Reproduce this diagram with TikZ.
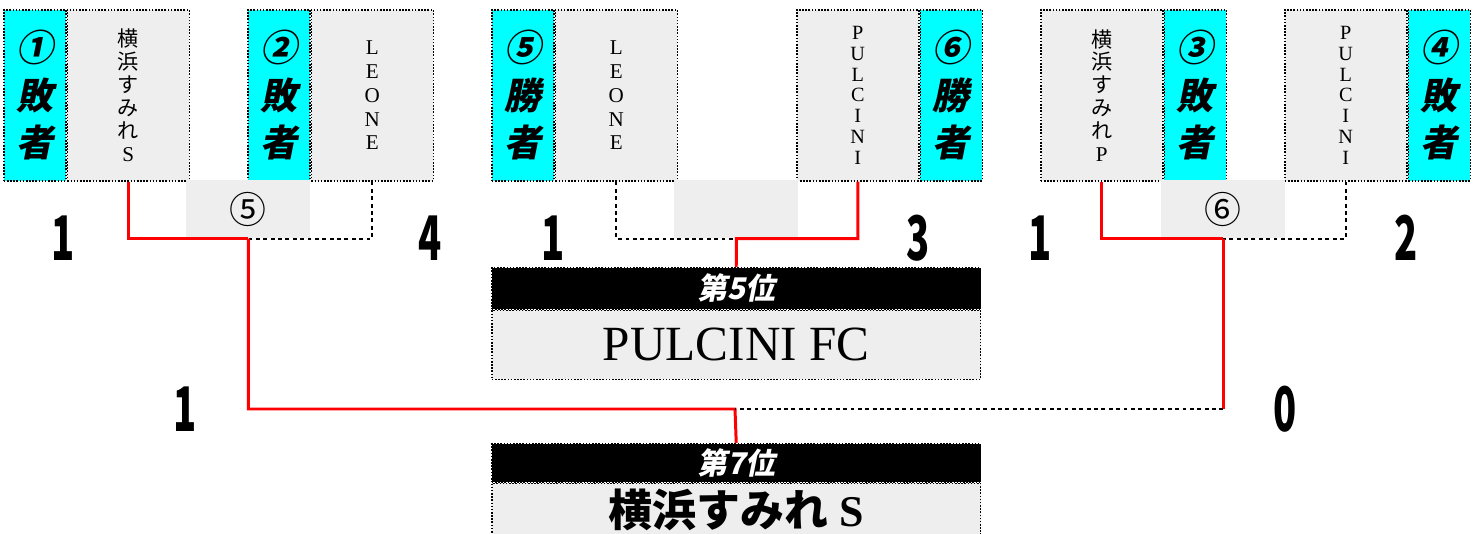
\documentclass[tikz,border=0pt]{standalone}
\usepackage{fontspec}
\setmainfont{Liberation Serif}
\newfontfamily\jpfont{Noto Sans CJK JP}
\newfontfamily\jpslant[FakeSlant=0.2]{Noto Sans CJK JP}
\usetikzlibrary{positioning}

\definecolor{panel}{HTML}{EEEEEE}
\definecolor{seedcyan}{RGB}{0,255,255}
\newcommand\pts[1]{\scalebox{0.62}[1]{#1}}

\tikzset{
    edge/.style={draw, line width=0.9pt, dash pattern=on 0.9pt off 0.9pt},
    seed/.style={edge, fill=seedcyan, minimum width=1.24cm, minimum height=3.42cm,
        inner sep=0pt, align=center, font=\jpslant\bfseries\fontsize{21}{27}\selectfont},
    team/.style={edge, fill=panel, minimum width=2.44cm, minimum height=3.42cm,
        inner sep=0pt, align=center, font=\fontsize{12}{13}\selectfont},
    slot/.style={fill=panel, minimum width=2.48cm, minimum height=1.16cm, inner sep=0pt,
        font=\jpfont\fontsize{21}{21}\selectfont},
    score/.style={font=\jpfont\bfseries\fontsize{35}{35}\selectfont, inner sep=0pt},
    rankhead/.style={edge, fill=black, text=white, minimum width=9.78cm,
        inner sep=0pt, font=\jpslant\bfseries\fontsize{17}{17}\selectfont},
    rankbody/.style={edge, fill=panel, minimum width=9.78cm, inner sep=0pt},
    win/.style={red, line width=1.7pt},
    lose/.style={black, line width=1pt, dash pattern=on 2.2pt off 2pt}
}

\begin{document}
\begin{tikzpicture}[x=0.02cm, y=-0.02cm]
    \useasboundingbox (0, 0) rectangle (1475, 534);

    % first round boxes
    \node [seed, anchor=north west] (s1) at (3, 9) {①\\敗\\者};
    \node [team, right=0pt of s1] (t1) {\jpfont 横\\\jpfont 浜\\\jpfont す\\\jpfont み\\\jpfont れ\\S};
    \node [seed, anchor=north west] (s2) at (247, 9) {②\\敗\\者};
    \node [team, right=0pt of s2, font=\fontsize{12}{13.6}\selectfont] (t2) {L\\E\\O\\N\\E};

    \node [seed, anchor=north west] (s5) at (491, 9) {⑤\\勝\\者};
    \node [team, right=0pt of s5, font=\fontsize{12}{13.6}\selectfont] (t5) {L\\E\\O\\N\\E};
    \node [team, anchor=north west, font=\fontsize{11.5}{11.8}\selectfont] (t6) at (796, 9) {P\\U\\L\\C\\I\\N\\I};
    \node [seed, right=0pt of t6] (s6) {⑥\\勝\\者};

    \node [team, anchor=north west] (t3) at (1040, 9) {\jpfont 横\\\jpfont 浜\\\jpfont す\\\jpfont み\\\jpfont れ\\P};
    \node [seed, right=0pt of t3] (s3) {③\\敗\\者};
    \node [team, anchor=north west, font=\fontsize{11.5}{11.8}\selectfont] (t4) at (1284, 9) {P\\U\\L\\C\\I\\N\\I};
    \node [seed, right=0pt of t4] (s4) {④\\敗\\者};

    % match slots
    \node [slot, anchor=north west] (g5) at (186, 180) {⑤};
    \node [slot, anchor=north west] (gm) at (674, 180) {};
    \node [slot, anchor=north west] (g6) at (1161, 180) {⑥};

    % ranking boxes
    \node [rankhead, anchor=north west, minimum height=0.82cm] (h5) at (491, 267) {第5位};
    \node [rankbody, below=0pt of h5, minimum height=1.38cm, font=\fontsize{28}{28}\selectfont] (b5) {PULCINI FC};
    \node [rankhead, anchor=north west, minimum height=0.76cm] (h7) at (491, 443) {第7位};
    \node [rankbody, below=0pt of h7, minimum height=1.06cm, font=\fontsize{25}{25}\selectfont] (b7) {{\jpfont\bfseries 横浜すみれ} \bfseries S};
    \coordinate (j7) at (735, 409);

    % connectors
    \draw [win] (t1.south) |- (g5.south);
    \draw [lose] (t2.south) |- (g5.south);
    \draw [lose] (t5.south) |- (gm.south);
    \draw [win] (t6.south) |- (gm.south) -- (h5.north);
    \draw [win] (t3.south) |- (g6.south);
    \draw [lose] (t4.south) |- (g6.south);
    \draw [win] (g5.south) |- (j7) -- (h7.north);
    \draw [win] (g6.south) -- (g6.south |- j7);
    \draw [lose] (g6.south |- j7) -- (j7);

    % scores
    \node [score] (p1) at (63, 238) {\pts{1}};
    \node [score] (p2) at (430, 238) {\pts{4}};
    \node [score] (p5) at (553, 238) {\pts{1}};
    \node [score] (p6) at (918, 238) {\pts{3}};
    \node [score] (p3) at (1040, 238) {\pts{1}};
    \node [score] (p4) at (1406, 238) {\pts{2}};
    \node [score] (q5) at (185, 409) {\pts{1}};
    \node [score] (q6) at (1285, 409) {\pts{0}};
\end{tikzpicture}
\end{document}
